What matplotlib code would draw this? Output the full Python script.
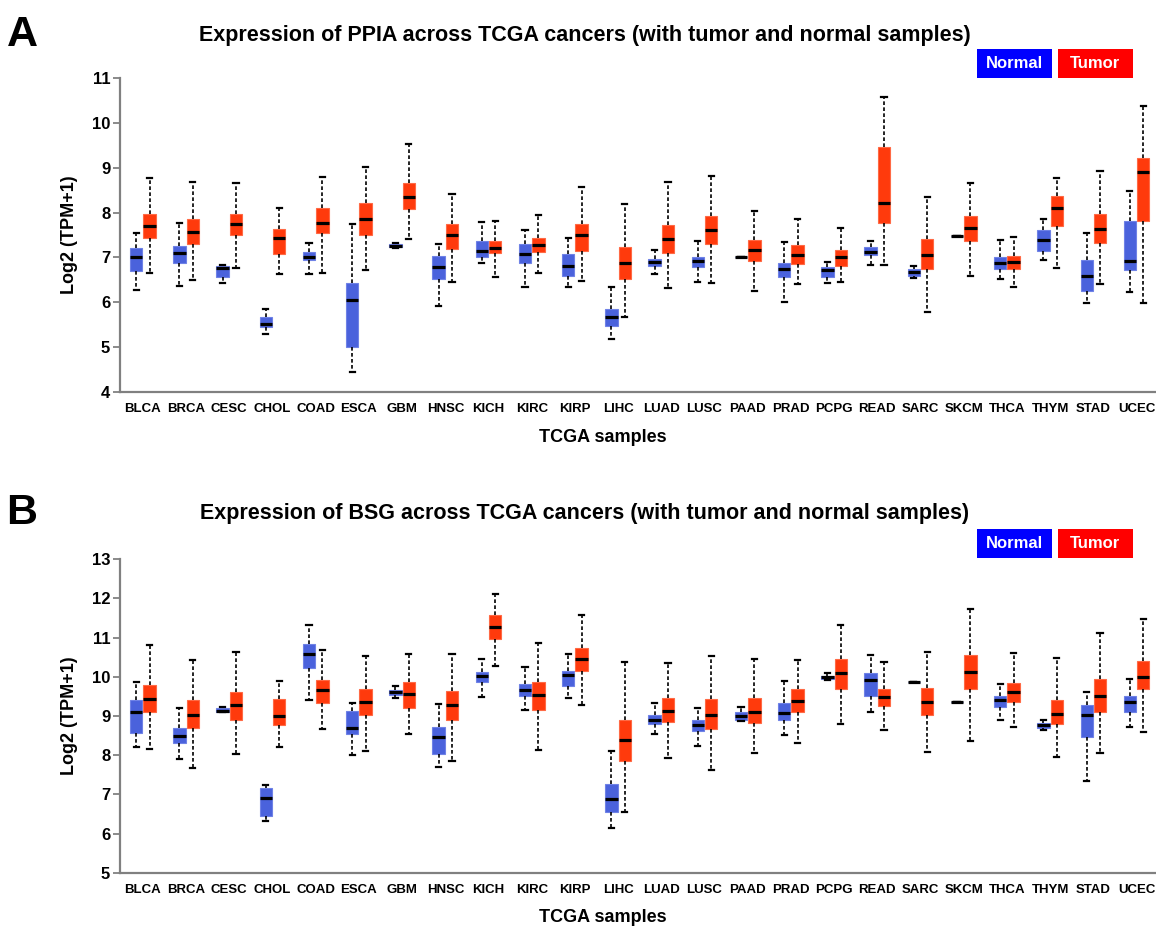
import numpy as np
import matplotlib
matplotlib.use("Agg")
import matplotlib.pyplot as plt
from matplotlib.patches import Rectangle

plt.rcParams['font.family'] = ['Liberation Sans', 'DejaVu Sans']
plt.rcParams['font.weight'] = 'bold'

cancers = ["BLCA", "BRCA", "CESC", "CHOL", "COAD", "ESCA", "GBM", "HNSC", "KICH", "KIRC",
           "KIRP", "LIHC", "LUAD", "LUSC", "PAAD", "PRAD", "PCPG", "READ", "SARC", "SKCM",
           "THCA", "THYM", "STAD", "UCEC"]

# each row: [lower whisker, Q1, median, Q3, upper whisker]
ppia_normal = [
    [6.27, 6.70, 7.00, 7.20, 7.54], [6.37, 6.87, 7.09, 7.26, 7.76], [6.42, 6.57, 6.76, 6.81, 6.83],
    [5.29, 5.44, 5.51, 5.68, 5.84], [6.62, 6.94, 7.02, 7.12, 7.33], [4.44, 5.00, 6.04, 6.44, 7.74],
    [7.20, 7.23, 7.26, 7.29, 7.32], [5.92, 6.51, 6.78, 7.04, 7.31], [6.87, 7.02, 7.15, 7.37, 7.80],
    [6.35, 6.87, 7.08, 7.29, 7.61], [6.33, 6.59, 6.82, 7.08, 7.43], [5.18, 5.48, 5.68, 5.84, 6.35],
    [6.63, 6.81, 6.90, 6.96, 7.16], [6.46, 6.78, 6.92, 7.02, 7.37], [7.00, 7.00, 7.00, 7.00, 7.00],
    [6.00, 6.57, 6.74, 6.87, 7.34], [6.44, 6.56, 6.71, 6.79, 6.89], [6.83, 7.06, 7.13, 7.23, 7.37],
    [6.55, 6.59, 6.67, 6.74, 6.81], [7.48, 7.48, 7.48, 7.48, 7.48], [6.52, 6.74, 6.87, 7.02, 7.39],
    [6.94, 7.15, 7.39, 7.61, 7.86], [5.98, 6.25, 6.59, 6.94, 7.55], [6.22, 6.72, 6.92, 7.81, 8.47],
]
ppia_tumor = [
    [6.65, 7.43, 7.70, 7.97, 8.76], [6.50, 7.31, 7.56, 7.86, 8.69], [6.76, 7.49, 7.74, 7.97, 8.67],
    [6.62, 7.08, 7.43, 7.64, 8.10], [6.65, 7.54, 7.76, 8.10, 8.79], [6.71, 7.49, 7.86, 8.22, 9.02],
    [7.41, 8.08, 8.34, 8.65, 9.52], [6.46, 7.18, 7.49, 7.74, 8.42], [6.56, 7.09, 7.22, 7.37, 7.81],
    [6.66, 7.11, 7.28, 7.43, 7.95], [6.48, 7.15, 7.50, 7.75, 8.56], [5.67, 6.51, 6.88, 7.23, 8.19],
    [6.31, 7.09, 7.40, 7.72, 8.69], [6.44, 7.30, 7.61, 7.92, 8.82], [6.26, 6.92, 7.17, 7.39, 8.04],
    [6.41, 6.85, 7.05, 7.27, 7.86], [6.45, 6.82, 7.01, 7.17, 7.66], [6.83, 7.76, 8.21, 9.47, 10.58],
    [5.78, 6.74, 7.05, 7.41, 8.34], [6.59, 7.37, 7.66, 7.93, 8.67], [6.35, 6.74, 6.89, 7.04, 7.45],
    [6.77, 7.69, 8.11, 8.36, 8.78], [6.41, 7.32, 7.63, 7.97, 8.93], [5.98, 7.81, 8.90, 9.22, 10.38],
]
bsg_normal = [
    [8.20, 8.56, 9.09, 9.41, 9.86], [7.91, 8.30, 8.50, 8.69, 9.21], [9.10, 9.10, 9.13, 9.20, 9.22],
    [6.32, 6.45, 6.91, 7.17, 7.24], [9.41, 10.22, 10.58, 10.83, 11.32], [8.00, 8.54, 8.70, 9.14, 9.32],
    [9.46, 9.54, 9.60, 9.66, 9.77], [7.69, 8.03, 8.46, 8.71, 9.30], [9.49, 9.88, 10.03, 10.12, 10.46],
    [9.15, 9.51, 9.66, 9.81, 10.26], [9.47, 9.77, 10.05, 10.16, 10.57], [6.14, 6.56, 6.89, 7.26, 8.11],
    [8.53, 8.79, 8.91, 9.03, 9.32], [8.24, 8.62, 8.76, 8.91, 9.20], [8.86, 8.91, 9.00, 9.09, 9.24],
    [8.51, 8.90, 9.07, 9.32, 9.90], [9.92, 9.95, 9.99, 10.03, 10.09], [9.09, 9.51, 9.92, 10.11, 10.56],
    [9.88, 9.88, 9.88, 9.88, 9.88], [9.35, 9.35, 9.35, 9.35, 9.35], [8.90, 9.24, 9.42, 9.52, 9.81],
    [8.63, 8.69, 8.76, 8.83, 8.91], [7.35, 8.46, 9.02, 9.28, 9.62], [8.73, 9.09, 9.35, 9.51, 9.94],
]
bsg_tumor = [
    [8.15, 9.09, 9.43, 9.78, 10.80], [7.66, 8.69, 9.02, 9.41, 10.42], [8.03, 8.90, 9.28, 9.62, 10.63],
    [8.20, 8.77, 9.01, 9.43, 9.90], [8.66, 9.34, 9.66, 9.92, 10.69], [8.11, 9.02, 9.37, 9.70, 10.54],
    [8.55, 9.20, 9.55, 9.87, 10.57], [7.85, 8.90, 9.28, 9.64, 10.59], [10.28, 10.97, 11.28, 11.57, 12.12],
    [8.13, 9.15, 9.54, 9.87, 10.87], [9.28, 10.15, 10.46, 10.74, 11.58], [6.56, 7.85, 8.40, 8.90, 10.38],
    [7.94, 8.85, 9.14, 9.46, 10.35], [7.61, 8.66, 9.02, 9.43, 10.54], [8.06, 8.83, 9.11, 9.46, 10.45],
    [8.32, 9.11, 9.39, 9.70, 10.42], [8.80, 9.68, 10.09, 10.46, 11.32], [8.63, 9.26, 9.49, 9.68, 10.38],
    [8.08, 9.02, 9.37, 9.71, 10.63], [8.37, 9.68, 10.12, 10.55, 11.73], [8.73, 9.37, 9.61, 9.83, 10.62],
    [7.96, 8.79, 9.04, 9.41, 10.47], [8.05, 9.09, 9.51, 9.94, 11.11], [8.60, 9.68, 10.00, 10.41, 11.48],
]

titles = ["Expression of PPIA across TCGA cancers (with tumor and normal samples)",
          "Expression of BSG across TCGA cancers (with tumor and normal samples)"]
panel_letters = ["A", "B"]
group_labels = ["Normal", "Tumor"]

BLUE = "#4A62DC"
RED = "#FF3A0C"
LEG_BLUE = "#0000FF"
LEG_RED = "#FF0000"

W, H = 1156, 927
fig = plt.figure(figsize=(W / 100, H / 100), dpi=100)


def fx(x):
    return x / W


def fy(y):
    return 1 - y / H


def to_stats(rows):
    return [dict(whislo=r[0], q1=r[1], med=r[2], q3=r[3], whishi=r[4], fliers=[]) for r in rows]


def panel(top, bottom, normal, tumor, ylim, title, letter, title_y, legend_y):
    ax = fig.add_axes([fx(120), fy(bottom), fx(1156) - fx(120), fy(top) - fy(bottom)])
    pos = np.arange(len(cancers))
    common = dict(widths=0.285, showfliers=False, patch_artist=True, manage_ticks=False,
                  whiskerprops=dict(color="black", linestyle=(0, (2.2, 1.4)), linewidth=1.2),
                  capprops=dict(color="black", linewidth=1.6),
                  medianprops=dict(color="black", linewidth=2.3, solid_capstyle="butt"),
                  capwidths=0.12)
    ax.bxp(to_stats(normal), positions=pos - 0.155,
           boxprops=dict(facecolor=BLUE, edgecolor="#6F82E6", linewidth=0.8), **common)
    ax.bxp(to_stats(tumor), positions=pos + 0.155,
           boxprops=dict(facecolor=RED, edgecolor="#FF6A45", linewidth=0.8), **common)
    ax.set_xlim(-0.53, 23.45)
    ax.set_ylim(*ylim)
    ax.set_yticks(np.arange(ylim[0], ylim[1] + 1, 1))
    ax.set_xticks(pos)
    ax.set_xticklabels(cancers, fontsize=9.5, fontweight="bold")
    ax.tick_params(axis="x", length=0, pad=8)
    ax.tick_params(axis="y", length=5, width=1.2, color="#777777", pad=2, labelsize=12)
    for lab in ax.get_yticklabels():
        lab.set_fontweight("bold")
    for s in ["top", "right"]:
        ax.spines[s].set_visible(False)
    for s in ["left", "bottom"]:
        ax.spines[s].set_color("#808080")
        ax.spines[s].set_linewidth(1.6)

    mid = (top + bottom) / 2
    fig.text(fx(70), fy(mid), "Log2 (TPM+1)", rotation=90, ha="center", va="center",
             fontsize=13, fontweight="bold")
    fig.text(fx(603), fy(bottom + 45), "TCGA samples", ha="center", va="center",
             fontsize=13, fontweight="bold")
    fig.text(fx(585), fy(title_y), title, ha="center", va="center", fontsize=15.5, fontweight="bold")
    fig.text(fx(22), fy(title_y), letter, ha="center", va="center", fontsize=31, fontweight="bold")

    # legend boxes
    for x0, lab, col in [(977, group_labels[0], LEG_BLUE), (1058, group_labels[1], LEG_RED)]:
        fig.patches.append(Rectangle((fx(x0), fy(legend_y + 29)), fx(75), 29 / H,
                                     transform=fig.transFigure, facecolor=col, edgecolor="none"))
        fig.text(fx(x0 + 37.5), fy(legend_y + 14.5), lab, ha="center", va="center",
                 color="white", fontsize=12, fontweight="bold")
    return ax


panel(78, 392, ppia_normal, ppia_tumor, (4, 11), titles[0], panel_letters[0], 35, 49)
panel(559.3, 872.7, bsg_normal, bsg_tumor, (5, 13), titles[1], panel_letters[1], 513, 529)

fig.savefig("out.png", dpi=100)
